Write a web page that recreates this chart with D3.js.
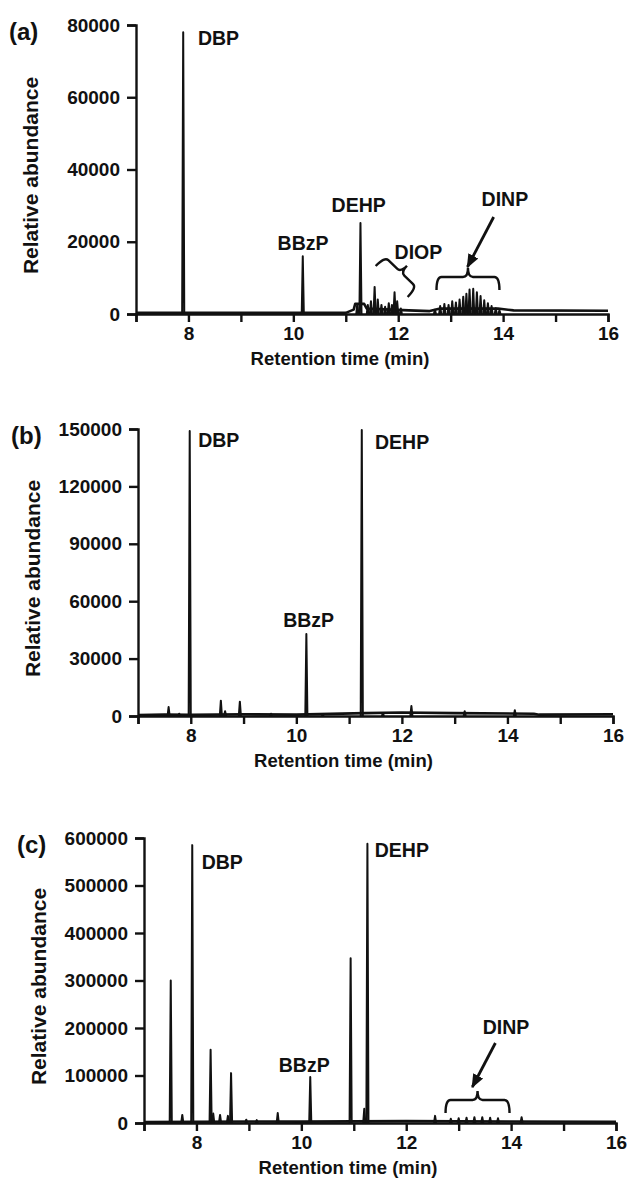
<!DOCTYPE html>
<html>
<head>
<meta charset="utf-8">
<script src="https://cdn.jsdelivr.net/npm/d3@7"></script>
<style>
  body { margin: 0; background: #fff; }
  text { font-family: "Liberation Sans", Arial, sans-serif; fill: #111; }
  .axis path, .axis line { stroke: #111; stroke-width: 2.4; }
  .trace { fill: none; stroke: #111; stroke-width: 2; stroke-linejoin: round; }
  .baseline { stroke-width: 2.6; }
</style>
</head>
<body>
<div id="chart"></div>
<script>
// ---- data ----
var xTicks = [7, 8, 9, 10, 11, 12, 13, 14, 15, 16];
var xLabels = [8, 10, 12, 14, 16];

// panel (a)
var yTicksA = [0, 20000, 40000, 60000, 80000];
var peaksA = [
  [7.9, 78000], [10.18, 16000], [11.22, 2800], [11.28, 25200],
  [11.42, 2500], [11.48, 3500], [11.55, 7500], [11.61, 4000], [11.68, 2500],
  [11.75, 2000], [11.82, 3000], [11.88, 2500], [11.93, 6000], [11.98, 3500], [12.05, 1500],
  [12.7, 1200], [12.8, 2200], [12.88, 2800], [12.96, 2500], [13.03, 3500], [13.1, 3200],
  [13.17, 4000], [13.24, 4800], [13.3, 5600], [13.36, 6800], [13.43, 7000], [13.5, 6000],
  [13.57, 5000], [13.64, 3800], [13.71, 3000], [13.78, 2200], [13.86, 1600], [13.93, 1000]
];
var baseA = [
  [7, 300], [11.0, 300], [11.15, 1200], [11.18, 2800], [11.35, 2800], [11.4, 1500],
  [12.2, 1000], [12.6, 800], [12.8, 1500], [13.9, 1500], [14.2, 1000], [16, 900]
];

// panel (b)
var yTicksB = [0, 30000, 60000, 90000, 120000, 150000];
var peaksB = [
  [7.58, 4700], [7.78, 1200], [7.98, 149000], [8.57, 8000], [8.65, 2500], [8.93, 7500],
  [9.52, 1200], [10.19, 42900], [10.5, 800], [11.24, 149500], [11.64, 1500],
  [12.18, 5200], [13.19, 2500], [14.14, 3000]
];
var baseB = [
  [7, 500], [7.5, 800], [8.0, 600], [9, 900], [10, 700], [11.3, 1500], [12, 1800],
  [13, 1500], [14.5, 1200], [14.6, 700], [16, 900]
];

// panel (c)
var yTicksC = [0, 100000, 200000, 300000, 400000, 500000, 600000];
var peaksC = [
  [7.51, 300000], [7.73, 17000], [7.92, 585000], [8.27, 154000], [8.32, 20000],
  [8.45, 17000], [8.6, 15000], [8.66, 105000], [8.95, 7000], [9.15, 6000], [9.55, 21000],
  [10.17, 97000], [10.94, 347000], [11.2, 30000], [11.26, 588000], [12.55, 15000],
  [12.85, 9000], [13.0, 10000], [13.15, 11000], [13.3, 12000], [13.45, 12000],
  [13.6, 11000], [13.75, 10000], [14.2, 12000]
];
var baseC = [
  [7, 2000], [9, 3000], [10, 3000], [12, 4000], [14, 3000], [16, 2500]
];

// peak labels: [text, rt of left edge, abundance at text middle]
var labelsA = [["DBP", 8.18, 76400], ["BBzP", 9.7, 19650], ["DEHP", 10.73, 30170],
               ["DIOP", 11.93, 17160], ["DINP", 13.59, 31830]];
var labelsB = [["DBP", 8.14, 144240], ["BBzP", 9.75, 50170], ["DEHP", 11.49, 143190]];
var labelsC = [["DBP", 8.1, 549400], ["BBzP", 9.57, 122100], ["DEHP", 11.4, 574700],
               ["DINP", 13.46, 202100]];

var panels = [
  { tag: "(a)", peaks: peaksA, base: baseA, yTicks: yTicksA, yMax: 80000, labels: labelsA,
    box: { left: 136, right: 608, top: 25, bottom: 314 },
    arrow: [[13.82, 26850], [13.32, 13010]],
    braces: [[[12.73, 6640], [13.93, 6640]], [[11.57, 13290], [12.18, 4700]]] },
  { tag: "(b)", peaks: peaksB, base: baseB, yTicks: yTicksB, yMax: 150000, labels: labelsB,
    box: { left: 138, right: 613, top: 429, bottom: 716 },
    arrow: null, braces: [] },
  { tag: "(c)", peaks: peaksC, base: baseC, yTicks: yTicksC, yMax: 600000, labels: labelsC,
    box: { left: 144, right: 616, top: 838, bottom: 1123 },
    arrow: [[13.7, 168400], [13.26, 75800]],
    braces: [[[12.75, 21050], [13.97, 21050]]] }
];

var svg = d3.select("#chart").append("svg")
    .attr("width", 627)
    .attr("height", 1188);

svg.append("defs").append("marker")
    .attr("id", "head")
    .attr("viewBox", "0 0 10 10")
    .attr("refX", 9).attr("refY", 5)
    .attr("markerWidth", 5).attr("markerHeight", 5)
    .attr("markerUnits", "strokeWidth")
    .attr("orient", "auto")
  .append("path")
    .attr("d", "M0,1L10,5L0,9z")
    .attr("fill", "#111");

var halfWidth = 0.02;   // spike half width in minutes

function braceShape(len, depth, cusp, r) {
  var m = len / 2;
  return "M0,0Q0," + (-depth) + " " + r + "," + (-depth) +
    "L" + (m - r) + "," + (-depth) +
    "Q" + m + "," + (-depth) + " " + m + "," + (-depth - cusp) +
    "Q" + m + "," + (-depth) + " " + (m + r) + "," + (-depth) +
    "L" + (len - r) + "," + (-depth) +
    "Q" + len + "," + (-depth) + " " + len + ",0";
}

panels.forEach(function(p) {
  var b = p.box;
  var g = svg.append("g");

  var x = d3.scaleLinear().domain([7, 16]).range([b.left, b.right]);
  var y = d3.scaleLinear().domain([0, p.yMax]).range([b.bottom, b.top]);

  var line = d3.line()
      .x(function(d) { return x(d[0]); })
      .y(function(d) { return y(d[1]); });

  // baseline
  g.append("path").attr("class", "trace baseline").attr("d", line(p.base));

  // peaks as narrow spikes
  g.selectAll(".peak").data(p.peaks).enter()
    .append("path")
      .attr("class", "trace peak")
      .attr("d", function(d) {
        return line([[d[0] - halfWidth, 0], [d[0], d[1]], [d[0] + halfWidth, 0]]);
      });

  // axes
  var xAxis = d3.axisBottom(x)
      .tickValues(xTicks)
      .tickSize(8)
      .tickPadding(5)
      .tickFormat(function(d) { return xLabels.indexOf(d) >= 0 ? d : ""; });
  var yAxis = d3.axisLeft(y)
      .tickValues(p.yTicks)
      .tickSize(9)
      .tickPadding(7)
      .tickFormat(d3.format("d"));

  g.append("g").attr("class", "axis")
      .attr("transform", "translate(0," + b.bottom + ")")
      .call(xAxis)
      .selectAll("text")
        .style("font-size", "19px").style("font-weight", "bold").attr("fill", "#111");
  g.append("g").attr("class", "axis")
      .attr("transform", "translate(" + b.left + ",0)")
      .call(yAxis)
      .selectAll("text")
        .style("font-size", "19px").style("font-weight", "bold").attr("fill", "#111");

  // axis titles
  g.append("text")
      .attr("x", (b.left + b.right) / 2 - 32)
      .attr("y", b.bottom + 51)
      .attr("text-anchor", "middle")
      .style("font-size", "18.5px").style("font-weight", "bold")
      .text("Retention time (min)");
  g.append("text")
      .attr("transform", "translate(" + (b.left - 98) + "," + ((b.top + b.bottom) / 2 + 6) + ") rotate(-90)")
      .attr("text-anchor", "middle")
      .style("font-size", "21px").style("font-weight", "bold")
      .text("Relative abundance");

  // panel tag
  g.append("text")
      .attr("x", b.left - 127)
      .attr("y", b.top + 15)
      .style("font-size", "24px").style("font-weight", "bold")
      .text(p.tag);

  // peak labels
  g.selectAll(".lab").data(p.labels).enter()
    .append("text")
      .attr("x", function(d) { return x(d[1]); })
      .attr("y", function(d) { return y(d[2]) + 7; })
      .style("font-size", "19.5px").style("font-weight", "bold")
      .text(function(d) { return d[0]; });

  // arrow
  if (p.arrow) {
    g.append("line")
        .attr("x1", x(p.arrow[0][0])).attr("y1", y(p.arrow[0][1]))
        .attr("x2", x(p.arrow[1][0])).attr("y2", y(p.arrow[1][1]))
        .attr("stroke", "#111").attr("stroke-width", 2.8)
        .attr("marker-end", "url(#head)");
  }

  // braces
  p.braces.forEach(function(br) {
    var x1 = x(br[0][0]), y1 = y(br[0][1]);
    var x2 = x(br[1][0]), y2 = y(br[1][1]);
    var len = Math.sqrt((x2 - x1) * (x2 - x1) + (y2 - y1) * (y2 - y1));
    var ang = Math.atan2(y2 - y1, x2 - x1) * 180 / Math.PI;
    g.append("path")
        .attr("d", braceShape(len, 13, 9, 5))
        .attr("transform", "translate(" + x1 + "," + y1 + ") rotate(" + ang + ")")
        .attr("fill", "none").attr("stroke", "#111").attr("stroke-width", 2.4);
  });
});
</script>
</body>
</html>
